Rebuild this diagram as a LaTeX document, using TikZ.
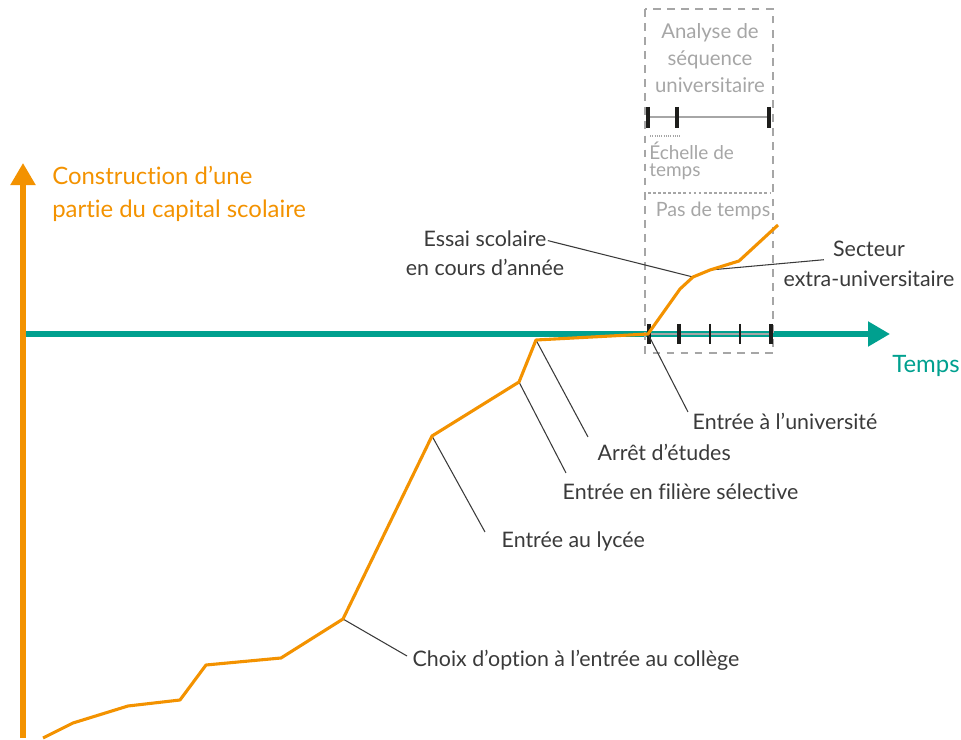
\documentclass[tikz,border=0pt]{standalone}
\usepackage{fontspec}
\setmainfont{Lato}[Ligatures=NoCommon]
\usetikzlibrary{arrows.meta}
\definecolor{CSOrange}{HTML}{F39200}
\definecolor{CSTeal}{HTML}{00A08F}
\definecolor{CSGrey}{HTML}{A6A6A6}
\definecolor{CSTick}{HTML}{1D1D1B}
\definecolor{CSText}{HTML}{3A3A3A}

\begin{document}
\begin{tikzpicture}[x=0.025cm,y=-0.025cm,
  lbl/.style={text=CSText,font=\fontsize{15.2}{21}\selectfont,inner sep=1pt},
  leader/.style={CSText,line width=.75pt},
  boxtxt/.style={text=CSGrey,font=\fontsize{14.5}{19}\selectfont,inner sep=0pt},
  bigtick/.style={CSTick,line width=3.5pt},
  smalltick/.style={CSTick,line width=.9pt},
  axistip/.style={-{Triangle[length=0.55cm,width=0.6cm]}}]
\path[use as bounding box] (0,0) rectangle (961,740);
% axes
\draw[CSTeal,line width=3.6pt,axistip] (25,334) -- (890,334);
\draw[CSOrange,line width=3.6pt,axistip] (23,738) -- (23,163);
\node[anchor=west,align=left,text=CSOrange,font=\fontsize{17}{23.5}\selectfont,inner sep=0pt] (ytitle) at (52,194) {Construction d’une\\partie du capital scolaire};
\node[text=CSTeal,font=\fontsize{17}{20}\selectfont,inner sep=0pt] (xtitle) at (926,366) {Temps};
% university sequence box
\draw[CSGrey,line width=1.9pt,dash pattern=on 5.5pt off 4.5pt] (645,9) rectangle (773,353);
\draw[CSGrey,line width=1.4pt,dash pattern=on 2pt off 1.6pt] (648,193) -- (770,193);
\node[boxtxt,align=center] (analyse) at (710,58) {Analyse de\\séquence\\universitaire};
\draw[CSGrey,line width=2.1pt] (648,117) -- (770,117);
\draw[bigtick] (648,107) -- (648,128);
\draw[bigtick] (677,107) -- (677,128);
\draw[bigtick] (769,107) -- (769,128);
\draw[CSGrey,line width=1pt,dash pattern=on .8pt off .8pt] (650,136) -- (681,136);
\node[boxtxt,anchor=west,align=left,font=\fontsize{13.5}{12.5}\selectfont] (echelle) at (649,161) {Échelle de\\temps};
\node[boxtxt,font=\fontsize{14}{19}\selectfont] (pas) at (713,211) {Pas de temps};
\draw[CSGrey,line width=2.1pt] (649,334) -- (771,334);
\draw[bigtick] (649,324) -- (649,344);
\draw[bigtick] (679,324) -- (679,344);
\draw[smalltick] (710,324) -- (710,344);
\draw[smalltick] (740,324) -- (740,344);
\draw[bigtick] (771,324) -- (771,344);
% trajectory
\coordinate (p1) at (43,738);
\coordinate (p2) at (73,723);
\coordinate (p3) at (128,706);
\coordinate (p4) at (180,700);
\coordinate (p5) at (206,665);
\coordinate (p6) at (281,658);
\coordinate (college) at (343,619);
\coordinate (lyceept) at (432,436);
\coordinate (filierept) at (519,382);
\coordinate (arretpt) at (536,340);
\coordinate (univpt) at (648,334);
\coordinate (p12) at (680,289);
\coordinate (essaipt) at (693,277);
\coordinate (secteurpt) at (710,270);
\coordinate (p15) at (739,261);
\coordinate (p16) at (778,225);
% labels
\node[lbl,anchor=west] (choix) at (411,660) {Choix d’option à l’entrée au collège};
\node[lbl,anchor=west] (lycee) at (500,541) {Entrée au lycée};
\node[lbl,anchor=west] (filiere) at (561,492) {Entrée en filière sélective};
\node[lbl,anchor=west] (arret) at (596,452) {Arrêt d’études};
\node[lbl,anchor=west] (univ) at (691,421) {Entrée à l’université};
\node[lbl,align=center] (essai) at (485,253) {Essai scolaire\\en cours d’année};
\node[lbl,align=center] (secteur) at (869,264) {Secteur\\extra-universitaire};
\draw[leader] (college) -- ([xshift=-.1cm,yshift=.1cm]choix.west);
\draw[leader] (lyceept) -- ([xshift=-.375cm,yshift=.225cm]lycee.west);
\draw[leader] (filierept) -- ([xshift=.125cm,yshift=.475cm]filiere.west);
\draw[leader] (arretpt) -- ([xshift=-.2cm,yshift=.375cm]arret.west);
\draw[leader] (univpt) -- ([xshift=-.075cm,yshift=.225cm]univ.west);
\draw[leader] (essaipt) -- ([xshift=-.45cm,yshift=-.3cm]essai.north east);
\draw[leader] (secteurpt) -- ([xshift=1.05cm,yshift=-.5cm]secteur.north west);
\draw[CSOrange,line width=2.2pt,line join=round] (p1) -- (p2) -- (p3) -- (p4) -- (p5) -- (p6) -- (college) -- (lyceept) -- (filierept) -- (arretpt) -- (univpt) -- (p12) -- (essaipt) -- (secteurpt) -- (p15) -- (p16);
\end{tikzpicture}
\end{document}
